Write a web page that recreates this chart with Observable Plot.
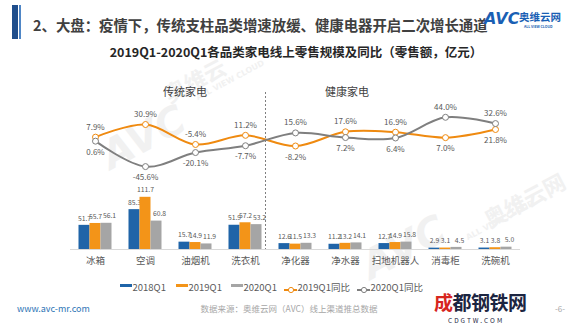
<!DOCTYPE html>
<html><head><meta charset="utf-8">
<script src="https://cdn.jsdelivr.net/npm/d3@7"></script>
<script src="https://cdn.jsdelivr.net/npm/@observablehq/plot@0.6"></script>
<style>
body{margin:0;background:#fff;font-family:"Noto Sans CJK SC","Noto Sans",sans-serif;}
#wrap{position:relative;width:580px;height:326px;overflow:hidden;background:#fff}
.abs{position:absolute;white-space:nowrap;line-height:1}
.plot{position:absolute;left:0;top:70px}
.sw{position:absolute;width:12px;height:3.5px}
.lg{position:absolute;font-size:9.5px;color:#595959;top:280px}
.wm{position:absolute;white-space:nowrap;line-height:1;color:#f1f1f1;font-weight:bold;transform-origin:left top}
</style></head><body><div id="wrap">
<div class="wm" style="left:95px;top:140px;transform:rotate(-28deg);font-size:40px;font-family:'DejaVu Sans';font-style:italic">AVC</div>
<div class="wm" style="left:160px;top:85px;transform:rotate(-28deg);font-size:22px">奥维云</div>
<div class="wm" style="left:195px;top:95px;transform:rotate(-28deg);font-size:8px;font-family:'DejaVu Sans'">ALL VIEW CLOUD</div>
<div class="wm" style="left:355px;top:250px;transform:rotate(-28deg);font-size:40px;font-family:'DejaVu Sans';font-style:italic">AVC</div>
<div class="wm" style="left:480px;top:210px;transform:rotate(-28deg);font-size:22px">奥维云网</div>
<div class="wm" style="left:465px;top:235px;transform:rotate(-28deg);font-size:8px;font-family:'DejaVu Sans'">ALL VIEW CLOUD</div>
<div class="abs" style="left:12px;top:5px;width:6px;height:34px;background:#1f4e8c"></div>
<div class="abs" style="left:18.5px;top:5px;width:2px;height:34px;background:#4f86c6"></div>
<div class="abs" style="left:33px;top:18px;font-size:14.4px;font-weight:bold;color:#404040">2、大盘：疫情下，传统支柱品类增速放缓、健康电器开启二次增长通道</div>
<div class="abs" style="left:484px;top:11px;font-size:16px;font-weight:bold;font-style:italic;color:#1a5fb4;font-family:'DejaVu Sans'">AVC</div>
<div class="abs" style="left:519px;top:12px;font-size:10.5px;font-weight:bold;color:#1a5fb4">奥维云网</div>
<div class="abs" style="left:524px;top:25px;font-size:3.5px;font-weight:bold;color:#1a5fb4">ALL VIEW CLOUD</div>
<div class="abs" style="left:296px;top:46px;transform:translateX(-50%);font-size:12.5px;font-weight:bold;color:#262626">2019Q1-2020Q1各品类家电线上零售规模及同比（零售额，亿元）</div>
<div class="abs" style="left:163px;top:86px;font-size:11px;color:#404040">传统家电</div>
<div class="abs" style="left:325px;top:86px;font-size:11px;color:#404040">健康家电</div>
<div id="chart"></div>
<div id="legend"></div>
<div class="abs" style="left:17px;top:304px;font-size:9px;color:#2e75b6">www.avc-mr.com</div>
<div class="abs" style="left:289px;top:304px;transform:translateX(-50%);font-size:8.5px;color:#a6a6a6">数据来源：奥维云网（AVC）线上渠道推总数据</div>
<div class="abs" style="left:434px;top:292px;font-size:19px;font-weight:bold;color:#1c2541;letter-spacing:-0.5px"><span style="color:#d7261e">成</span>都钢铁网</div>
<div class="abs" style="left:448px;top:317px;font-size:6.5px;color:#1c2541;letter-spacing:2px">CDGTW.COM</div>
<div class="abs" style="left:555px;top:305px;font-size:8px;color:#a6a6a6">-6-</div>
</div>
<script>
const categories = ["冰箱","空调","油烟机","洗衣机","净化器","净水器","扫地机器人","消毒柜","洗碗机"];
const seriesNames = ["2018Q1","2019Q1","2020Q1","2019Q1同比","2020Q1同比"];
const sales2018Q1 = [51.7,85.3,15.7,51.9,12.6,11.2,12.7,2.9,3.1];
const sales2019Q1 = [55.7,111.7,14.9,57.2,11.5,13.2,14.9,3.1,3.8];
const sales2020Q1 = [56.1,60.8,11.9,53.2,13.3,14.1,15.8,4.5,5.0];
const yoy2019Q1 = [7.9,30.9,-5.4,11.2,-8.2,17.6,16.9,7.0,21.8];
const yoy2020Q1 = [0.6,-45.6,-20.1,-7.7,15.6,7.2,6.4,44.0,32.6];

const barColors = ["#1f64a8","#f39418","#a5a5a5"];
const lineColors = ["#ef8a10","#7f7f7f"];
const font = "'Noto Sans CJK SC','Noto Sans',sans-serif";
const common = {width:580, height:210, marginLeft:70, marginRight:60, marginTop:22, marginBottom:31};

const salesSeries = [sales2018Q1, sales2019Q1, sales2020Q1];
const barRows = salesSeries.map(s => categories.map((c,i)=>({cat:c, v:s[i]})));

const barMarks = [];
barRows.forEach((rows,k)=>{
  const off = (k-1)*11;
  barMarks.push(Plot.barY(rows,{x:"cat", y:"v", fill:barColors[k], insetLeft:19.5, insetRight:19.5, dx:off}));
  barMarks.push(Plot.text(rows,{x:"cat", y:"v", text:d=>d.v.toFixed(1), dx:off + (k===2?3:0), dy:-7, fontSize:6.8, fill:"#595959"}));
});

const barsPlot = Plot.plot({
  ...common,
  x:{type:"band", domain:categories, padding:0, axis:null},
  y:{domain:[0,336], axis:null},
  style:{background:"transparent", fontFamily:font, overflow:"visible"},
  marks:[
    Plot.ruleY([0],{stroke:"#d9d9d9"}),
    Plot.ruleX(["洗衣机"],{dx:20, stroke:"#7f7f7f", strokeDasharray:"2,2"}),
    ...barMarks,
    Plot.text(categories,{x:d=>d, frameAnchor:"bottom", dy:14, fontSize:9.5, fill:"#595959"})
  ]
});
barsPlot.classList.add("plot");

const yoySeries = [yoy2019Q1, yoy2020Q1];
const lineRows = yoySeries.map((s,k)=>categories.map((c,i)=>({cat:c, v:s[i], other:yoySeries[1-k][i]})));
const lineMarks = [];
lineRows.forEach((rows,k)=>{
  lineMarks.push(Plot.line(rows,{x:"cat", y:"v", stroke:lineColors[k], strokeWidth:2, curve:"catmull-rom"}));
});
lineRows.forEach((rows,k)=>{
  lineMarks.push(Plot.dot(rows,{x:"cat", y:"v", r:3, fill:"#fff", stroke:lineColors[k], strokeWidth:1}));
  lineMarks.push(Plot.text(rows.filter(d=>d.v>=d.other),{x:"cat", y:"v", text:d=>d.v.toFixed(1)+"%", dy:-10, fontSize:8, fill:"#595959"}));
  lineMarks.push(Plot.text(rows.filter(d=>d.v<d.other),{x:"cat", y:"v", text:d=>d.v.toFixed(1)+"%", dy:11, fontSize:8, fill:"#595959"}));
});

const linesPlot = Plot.plot({
  ...common,
  x:{type:"band", domain:categories, padding:0, axis:null},
  y:{domain:[-50,50], range:[98.5,43.5], axis:null},
  style:{background:"transparent", fontFamily:font, overflow:"visible"},
  marks: lineMarks
});
linesPlot.classList.add("plot");

const chart = document.getElementById("chart");
chart.appendChild(barsPlot);
chart.appendChild(linesPlot);

// legend
const legend = document.getElementById("legend");
const legendPos = [120,176,231,284,357];
seriesNames.forEach((name,i)=>{
  const x = legendPos[i];
  if(i<3){
    const sw = document.createElement("div");
    sw.className="sw"; sw.style.left=x+"px"; sw.style.top="283.5px"; sw.style.background=barColors[i];
    legend.appendChild(sw);
  } else {
    const c = lineColors[i-3];
    const sw = document.createElement("div");
    sw.className="abs";
    sw.style.left=x+"px"; sw.style.top="280px";
    sw.innerHTML = `<svg width="13" height="10"><line x1="0" y1="5" x2="13" y2="5" stroke="${c}" stroke-width="2"/><circle cx="7" cy="5" r="2.6" fill="#fff" stroke="${c}"/></svg>`;
    legend.appendChild(sw);
  }
  const t = document.createElement("div");
  t.className="lg"; t.style.left=(x+(i<3?12.5:13.5))+"px"; t.textContent=name;
  legend.appendChild(t);
});
</script>
</body></html>
